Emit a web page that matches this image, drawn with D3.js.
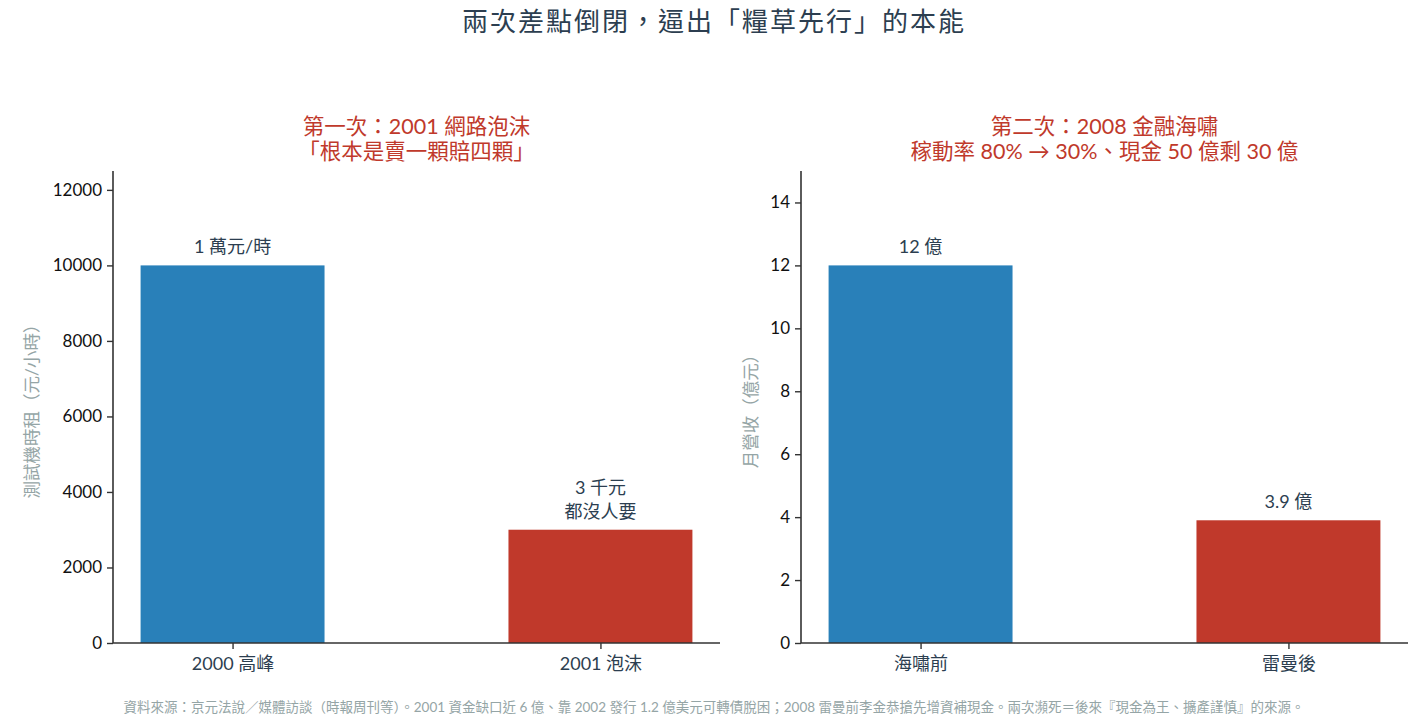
<!DOCTYPE html>
<html><head><meta charset="utf-8">
<script src="https://cdn.jsdelivr.net/npm/d3@7"></script>
<style>
html,body{margin:0;padding:0;background:#fff;}
svg text{font-family:"Lato","Noto Sans CJK TC",sans-serif;}
</style></head>
<body>
<script>
const mainTitle = "兩次差點倒閉，逼出「糧草先行」的本能";
const footer = "資料來源：京元法說／媒體訪談（時報周刊等）。2001 資金缺口近 6 億、靠 2002 發行 1.2 億美元可轉債脫困；2008 雷曼前李金恭搶先增資補現金。兩次瀕死＝後來『現金為王、擴產謹慎』的來源。";

const leftTitle = ["第一次：2001 網路泡沫", "「根本是賣一顆賠四顆」"];
const leftCategories = ["2000 高峰", "2001 泡沫"];
const leftValues = [10000, 3000];
const leftLabels = [["1 萬元/時"], ["3 千元", "都沒人要"]];
const leftTicks = [0, 2000, 4000, 6000, 8000, 10000, 12000];
const leftYLabel = "測試機時租（元/小時）";

const rightTitle = ["第二次：2008 金融海嘯", "稼動率 80% → 30%、現金 50 億剩 30 億"];
const rightCategories = ["海嘯前", "雷曼後"];
const rightValues = [12, 3.9];
const rightLabels = [["12 億"], ["3.9 億"]];
const rightTicks = [0, 2, 4, 6, 8, 10, 12, 14];
const rightYLabel = "月營收（億元）";

const barColors = ["#2980b9", "#c0392b"];

const W = 1428, H = 728;
const svg = d3.select("body").append("svg").attr("width", W).attr("height", H);

svg.append("text").attr("x", W/2).attr("y", 31).attr("text-anchor", "middle")
  .attr("font-size", 26).attr("font-weight", 400).attr("letter-spacing", 2)
  .attr("fill", "#2c3e50").text(mainTitle);

svg.append("text").attr("x", W/2).attr("y", 712).attr("text-anchor", "middle")
  .attr("font-size", 13.5).attr("fill", "#95a5a6").text(footer);

function panel(x0, x1, cats, vals, labels, ticks, ymax, title, ylabel, ylabelX) {
  const yTop = 171, yBot = 643;
  const x = d3.scaleLinear().domain([-0.325, 1.325]).range([x0, x1]);
  const y = d3.scaleLinear().domain([0, ymax]).range([yBot, yTop]);
  const g = svg.append("g");
  const bw = 0.5;
  g.selectAll("rect").data(vals).join("rect")
    .attr("x", (d, i) => x(i - bw/2)).attr("width", (d, i) => x(i + bw/2) - x(i - bw/2))
    .attr("y", d => y(d)).attr("height", d => y(0) - y(d))
    .attr("fill", (d, i) => barColors[i]);

  vals.forEach((v, i) => {
    const lines = labels[i];
    const n = lines.length;
    lines.forEach((t, j) => {
      g.append("text").attr("x", x(i)).attr("y", y(v) - 12 - (n - 1 - j) * 24)
        .attr("text-anchor", "middle").attr("font-size", 18).attr("fill", "#2c3e50").text(t);
    });
  });

  const yAxis = d3.axisLeft(y).tickValues(ticks).tickSize(6).tickPadding(5).tickFormat(d3.format("d"));
  const ga = g.append("g").attr("transform", `translate(${x0},0)`).call(yAxis);
  ga.select(".domain").attr("stroke", "#333").attr("stroke-width", 1.6).attr("d", `M0,${yTop}V${yBot}`);
  ga.selectAll(".tick line").attr("stroke", "#333").attr("stroke-width", 1.4);
  ga.selectAll(".tick text").attr("font-size", 17).attr("fill", "#111");

  const xAxis = d3.axisBottom(x).tickValues([0, 1]).tickSize(6).tickPadding(8).tickFormat(i => cats[i]);
  const gx = g.append("g").attr("transform", `translate(0,${yBot})`).call(xAxis);
  gx.select(".domain").attr("stroke", "#333").attr("stroke-width", 1.6).attr("d", `M${x0},0H${x1}`);
  gx.selectAll(".tick line").attr("stroke", "#333").attr("stroke-width", 1.4);
  gx.selectAll(".tick text").attr("font-size", 18).attr("fill", "#2c3e50");

  const cx = (x0 + x1) / 2;
  title.forEach((t, j) => {
    g.append("text").attr("x", cx).attr("y", 134 + j * 25).attr("text-anchor", "middle")
      .attr("font-size", 21.5).attr("fill", "#c0392b").text(t);
  });

  g.append("text").attr("transform", `translate(${ylabelX},${(yTop + yBot) / 2}) rotate(-90)`)
    .attr("text-anchor", "middle").attr("font-size", 17.5).attr("fill", "#95a5a6").text(ylabel);
}

panel(113, 720, leftCategories, leftValues, leftLabels, leftTicks, 12500, leftTitle, leftYLabel, 38);
panel(801, 1408, rightCategories, rightValues, rightLabels, rightTicks, 15, rightTitle, rightYLabel, 757);
</script>
</body></html>
